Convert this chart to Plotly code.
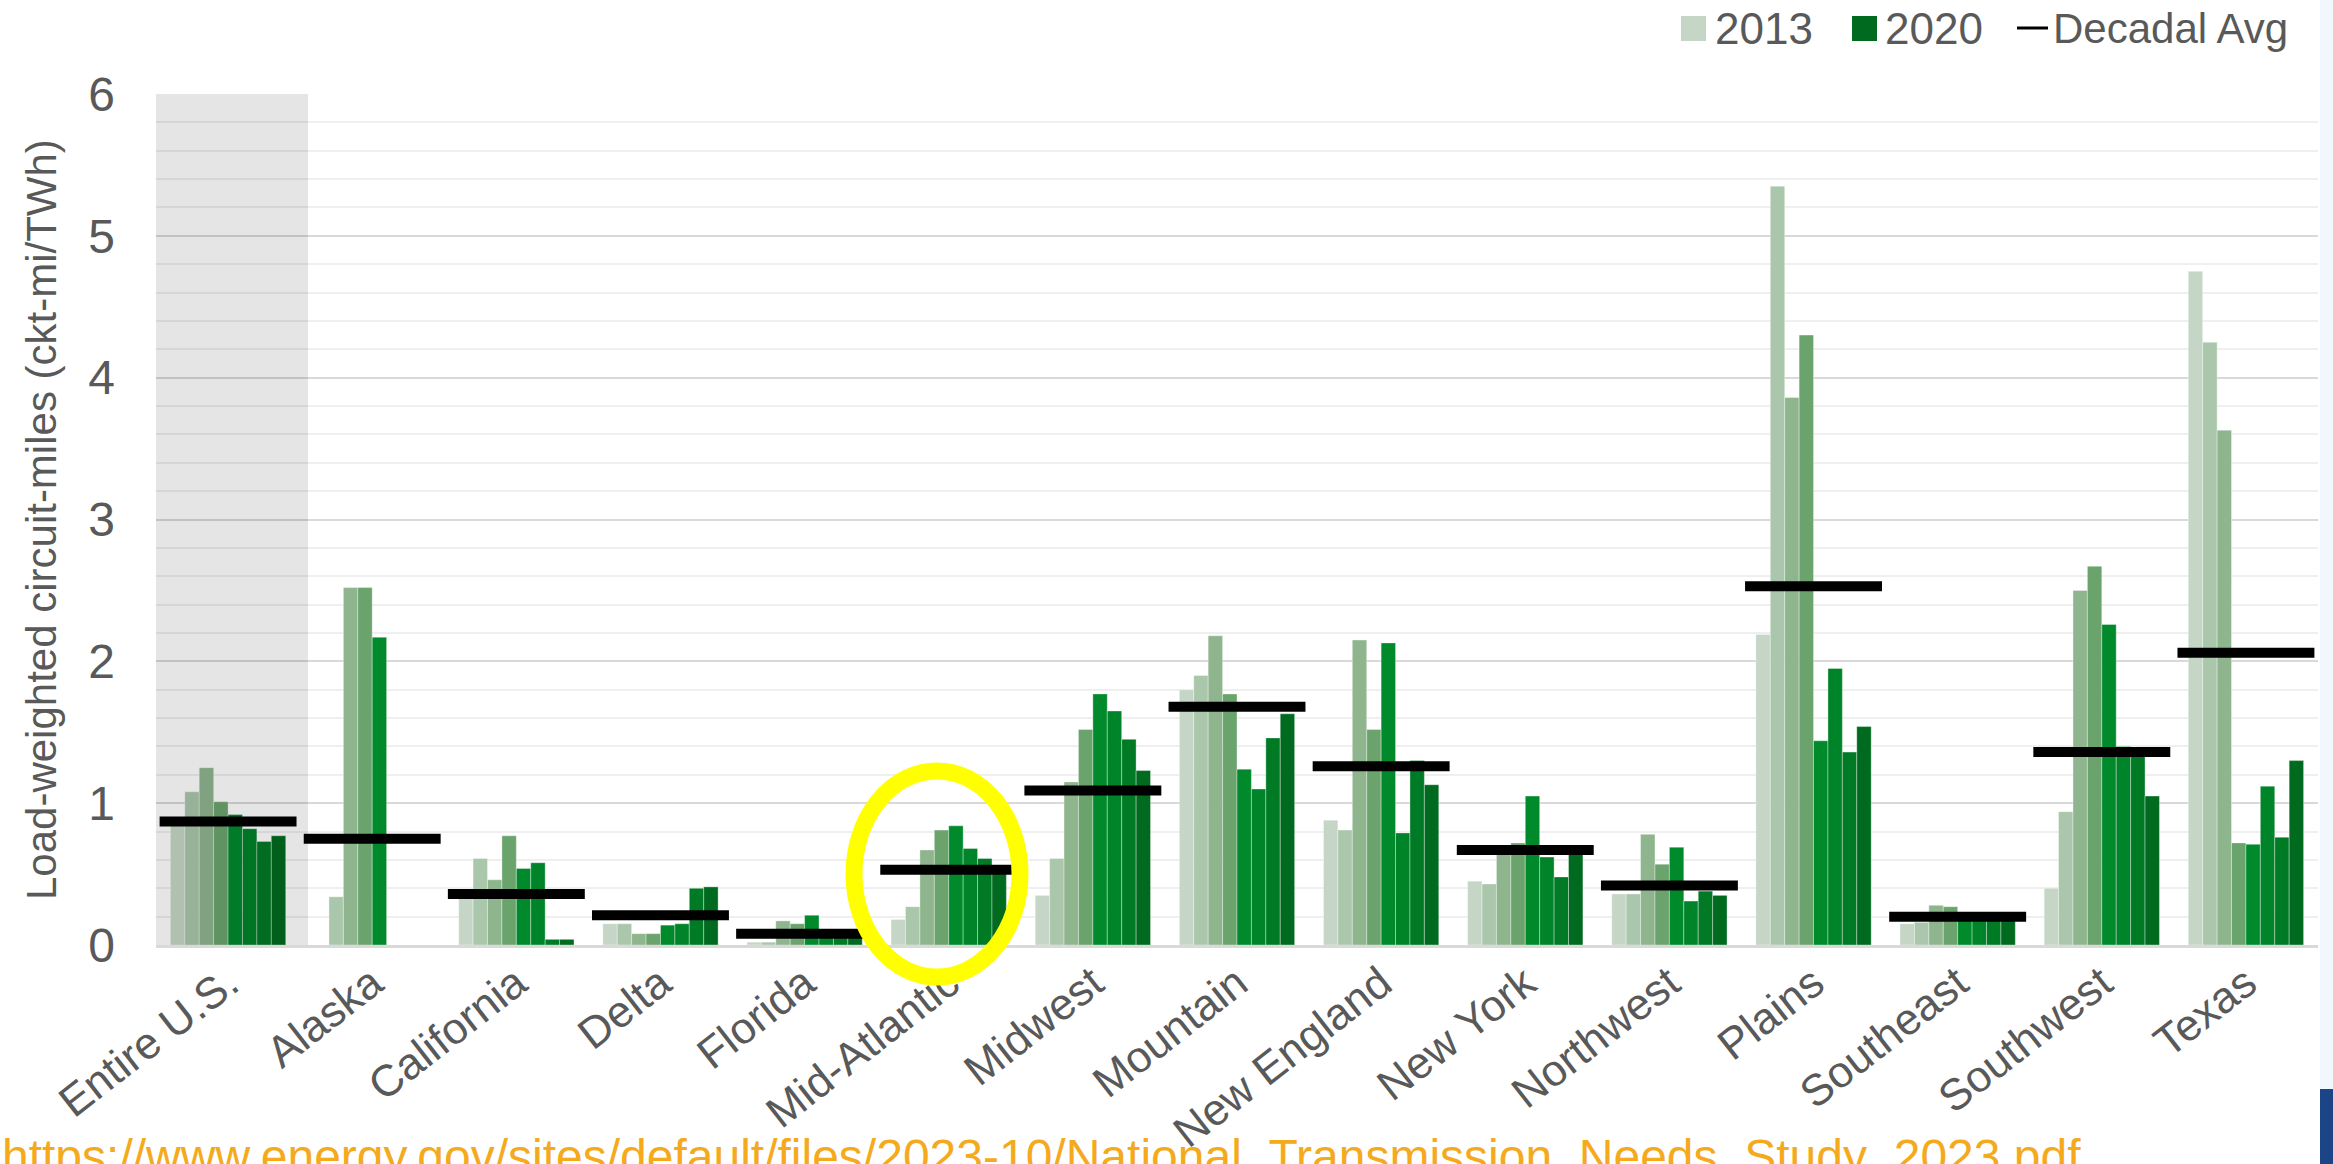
import plotly.graph_objects as go

W, H = 2333, 1164
ML, MR, MT, MB = 156, 15, 94, 219
PW, PH = W - ML - MR, H - MT - MB

FONT = "Liberation Sans Narrow, Arial Narrow, Liberation Sans, Arial, sans-serif"
GREY_TXT = "#595959"
FS = 42

categories = ["Entire U.S.", "Alaska", "California", "Delta", "Florida", "Mid-Atlantic",
              "Midwest", "Mountain", "New England", "New York", "Northwest", "Plains",
              "Southeast", "Southwest", "Texas"]
years = ["2013", "2014", "2015", "2016", "2017", "2018", "2019", "2020"]

v2013 = [0.86, None, 0.33, 0.15, 0.02, 0.18, 0.35, 1.80, 0.88, 0.45, 0.36, 2.19, 0.15, 0.40, 4.75]
v2014 = [1.08, 0.34, 0.61, 0.15, 0.02, 0.27, 0.61, 1.90, 0.81, 0.43, 0.36, 5.35, 0.16, 0.94, 4.25]
v2015 = [1.25, 2.52, 0.46, 0.08, 0.17, 0.67, 1.15, 2.18, 2.15, 0.65, 0.78, 3.86, 0.28, 2.50, 3.63]
v2016 = [1.01, 2.52, 0.77, 0.08, 0.15, 0.81, 1.52, 1.77, 1.52, 0.72, 0.57, 4.30, 0.27, 2.67, 0.72]
v2017 = [0.92, 2.17, 0.54, 0.14, 0.21, 0.84, 1.77, 1.24, 2.13, 1.05, 0.69, 1.44, 0.19, 2.26, 0.71]
v2018 = [0.82, None, 0.58, 0.15, 0.09, 0.68, 1.65, 1.10, 0.79, 0.62, 0.31, 1.95, 0.19, 1.40, 1.12]
v2019 = [0.73, None, 0.04, 0.40, 0.09, 0.61, 1.45, 1.46, 1.30, 0.48, 0.38, 1.36, 0.19, 1.36, 0.76]
v2020 = [0.77, None, 0.04, 0.41, 0.09, 0.54, 1.23, 1.63, 1.13, 0.64, 0.35, 1.54, 0.19, 1.05, 1.30]
series = [v2013, v2014, v2015, v2016, v2017, v2018, v2019, v2020]

decadal_avg = [0.87, 0.75, 0.36, 0.21, 0.08, 0.53, 1.09, 1.68, 1.26, 0.67, 0.42, 2.53, 0.20, 1.36, 2.06]

colors = ["#c5d6c6", "#aac6ab", "#8fb58f", "#6aa46c", "#008a2c", "#008429", "#007a25", "#006b1f"]

y_ticks = [0, 1, 2, 3, 4, 5, 6]
source_url = "https://www.energy.gov/sites/default/files/2023-10/National_Transmission_Needs_Study_2023.pdf"


def px_x(p):
    return (p - ML) / PW


def px_y(p):
    return (H - MB - p) / PH


xs = list(range(len(categories)))
fig = go.Figure()
for yr, vals, col in zip(years, series, colors):
    fig.add_trace(go.Bar(x=xs, y=vals, name=yr, marker_color=col,
                         marker_line=dict(width=1, color="rgba(255,255,255,0.35)"),
                         showlegend=False))

# decadal average segments
half = 0.475
ax, ay = [], []
for i, a in enumerate(decadal_avg):
    ax += [i - half, i + half, None]
    ay += [a, a, None]
fig.add_trace(go.Scatter(x=ax, y=ay, mode="lines", line=dict(color="black", width=10),
                         showlegend=False, hoverinfo="skip"))

shapes = []
# grey overlay on "Entire U.S."
shapes.append(dict(type="rect", xref="x", yref="y", x0=-0.5, x1=0.555, y0=0, y1=6,
                   fillcolor="rgba(0,0,0,0.10)", line=dict(width=0), layer="above"))
# yellow highlight ellipse
shapes.append(dict(type="circle", xref="paper", yref="paper",
                   x0=px_x(854), x1=px_x(1020), y0=px_y(977), y1=px_y(771),
                   line=dict(color="#ffff00", width=17), fillcolor="rgba(0,0,0,0)", layer="above"))
# right edge strip and corner
shapes.append(dict(type="rect", xref="paper", yref="paper", x0=px_x(2320), x1=px_x(2340),
                   y0=px_y(H + 5), y1=px_y(-5), fillcolor="#f2f7fd", line=dict(width=0), layer="above"))
shapes.append(dict(type="rect", xref="paper", yref="paper", x0=px_x(2320), x1=px_x(2340),
                   y0=px_y(H + 5), y1=px_y(1089), fillcolor="#1c4587", line=dict(width=0), layer="above"))
# manual legend
shapes.append(dict(type="rect", xref="paper", yref="paper", x0=px_x(1681), x1=px_x(1706),
                   y0=px_y(41), y1=px_y(16), fillcolor=colors[0], line=dict(width=0)))
shapes.append(dict(type="rect", xref="paper", yref="paper", x0=px_x(1852), x1=px_x(1877),
                   y0=px_y(41), y1=px_y(16), fillcolor=colors[-1], line=dict(width=0)))
shapes.append(dict(type="line", xref="paper", yref="paper", x0=px_x(2017), x1=px_x(2048),
                   y0=px_y(28), y1=px_y(28), line=dict(color="black", width=3)))

annotations = [
    dict(text=years[0], xref="paper", yref="paper", x=px_x(1713), y=px_y(29), xanchor="left",
         yanchor="middle", showarrow=False, font=dict(family=FONT, size=FS + 2, color=GREY_TXT)),
    dict(text=years[-1], xref="paper", yref="paper", x=px_x(1883), y=px_y(29), xanchor="left",
         yanchor="middle", showarrow=False, font=dict(family=FONT, size=FS + 2, color=GREY_TXT)),
    dict(text="Decadal Avg", xref="paper", yref="paper", x=px_x(2051), y=px_y(29), xanchor="left",
         yanchor="middle", showarrow=False, font=dict(family=FONT, size=FS, color=GREY_TXT)),
    dict(text="Load-weighted circuit-miles (ckt-mi/TWh)", xref="paper", yref="paper",
         x=px_x(41), y=px_y(520), textangle=-90, xanchor="center", yanchor="middle",
         showarrow=False, font=dict(family=FONT, size=FS, color=GREY_TXT)),
    dict(text=source_url, xref="paper", yref="paper", x=px_x(0), y=px_y(1128),
         xanchor="left", yanchor="top", showarrow=False,
         font=dict(family=FONT, size=48, color="#f4aa1c")),
]

fig.update_layout(
    width=W, height=H,
    margin=dict(l=ML, r=MR, t=MT, b=MB),
    paper_bgcolor="white", plot_bgcolor="white",
    barmode="group", bargap=0.2, bargroupgap=0,
    shapes=shapes, annotations=annotations,
    showlegend=False,
    font=dict(family=FONT, color=GREY_TXT),
)
fig.update_xaxes(range=[-0.5, len(categories) - 0.5], tickvals=xs, ticktext=categories,
                 tickangle=-38, tickfont=dict(family=FONT, size=FS + 2, color=GREY_TXT),
                 showgrid=False, zeroline=False, showline=True, linecolor="#d9d9d9",
                 linewidth=3, ticks="", automargin=False, ticklabelstandoff=-8)
fig.update_yaxes(range=[0, 6], tickvals=y_ticks, showgrid=True, gridcolor="#d9d9d9", gridwidth=2,
                 minor=dict(dtick=0.2, showgrid=True, gridcolor="#efefef", gridwidth=2),
                 zeroline=False, ticks="", ticklabelstandoff=40, automargin=False,
                 tickfont=dict(family=FONT, size=FS + 6, color=GREY_TXT))

fig.write_html("out.html", config={"displayModeBar": False},
               post_script="document.body.style.margin='0px';document.body.style.overflow='hidden';")
